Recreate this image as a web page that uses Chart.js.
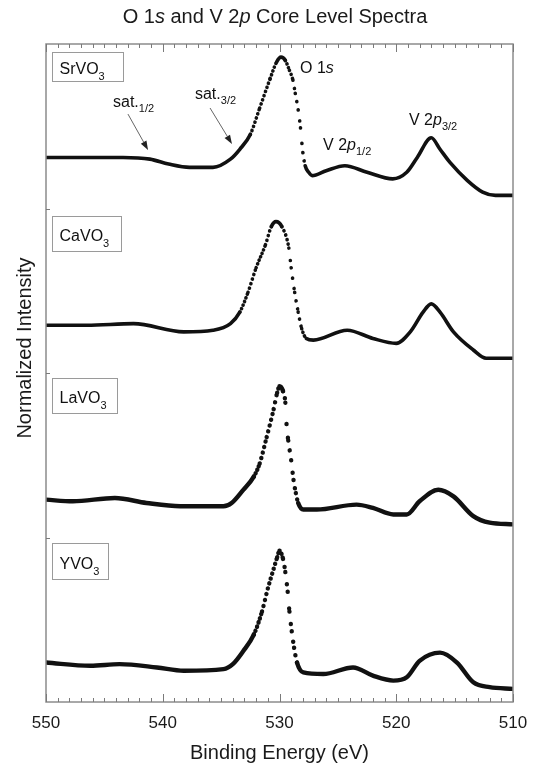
<!DOCTYPE html>
<html><head><meta charset="utf-8">
<script src="https://cdn.jsdelivr.net/npm/chart.js@4.4.0/dist/chart.umd.min.js"></script>
<style>html,body{margin:0;padding:0;background:#fff;}canvas{display:block;}</style>
</head><body>
<canvas id="c" width="540" height="766"></canvas>
<script>
// ---------- data (binding energy in eV, normalized intensity incl. vertical offsets) ----------
const srEnergy = [550, 547, 543.4, 541.1, 539.5, 537.7, 535.7, 534.2, 533.4, 532.5, 531.7, 530.8, 530.25, 529.87, 529.5, 529.15, 528.85, 528.65, 528.4, 528.2, 528.0, 527.8, 527.5, 527.2, 526.0, 524.4, 522.5, 520.3, 519.1, 518.2, 517.0, 516.25, 515.4, 513.9, 512.6, 511.5, 510];
const srIntensity = [3.31, 3.31, 3.31, 3.30, 3.27, 3.25, 3.25, 3.30, 3.36, 3.45, 3.61, 3.79, 3.89, 3.92, 3.90, 3.84, 3.78, 3.70, 3.60, 3.49, 3.34, 3.26, 3.22, 3.20, 3.23, 3.26, 3.22, 3.18, 3.22, 3.31, 3.43, 3.36, 3.28, 3.17, 3.10, 3.08, 3.08];

const caEnergy = [550, 546.5, 542.5, 538.2, 535.7, 534.2, 533.4, 532.7, 532.0, 531.2, 530.7, 530.3, 529.8, 529.2, 529.0, 528.7, 528.4, 528.1, 527.7, 527.1, 524.2, 522.0, 520.0, 518.8, 517.7, 517.0, 516.25, 515.1, 513.4, 512.3, 510];
const caIntensity = [2.29, 2.29, 2.30, 2.25, 2.26, 2.30, 2.37, 2.49, 2.64, 2.78, 2.89, 2.92, 2.89, 2.76, 2.64, 2.49, 2.37, 2.27, 2.21, 2.20, 2.26, 2.21, 2.18, 2.25, 2.37, 2.42, 2.37, 2.25, 2.14, 2.09, 2.09];

const laEnergy = [550, 547.7, 544.1, 541.4, 538.5, 534.8, 534.1, 533.1, 532.2, 531.7, 531.1, 530.5, 530.2, 530.0, 529.7, 529.5, 529.4, 529.25, 529.0, 528.8, 528.6, 528.4, 527.96, 526.8, 523.4, 522.0, 520.25, 519.1, 518.0, 516.4, 515.1, 513.4, 512.0, 510];
const laIntensity = [1.23, 1.22, 1.24, 1.21, 1.19, 1.19, 1.21, 1.29, 1.37, 1.45, 1.61, 1.78, 1.88, 1.92, 1.89, 1.82, 1.69, 1.59, 1.47, 1.35, 1.27, 1.21, 1.17, 1.17, 1.20, 1.18, 1.14, 1.14, 1.22, 1.29, 1.25, 1.13, 1.09, 1.08];

const yEnergy = [550, 546.2, 543.7, 540.5, 538.2, 534.8, 534.0, 533.1, 532.2, 531.5, 531.0, 530.5, 530.2, 530.0, 529.7, 529.5, 529.3, 529.15, 528.95, 528.75, 528.5, 527.96, 526.25, 523.7, 522.0, 520.25, 519.1, 518.0, 516.25, 514.8, 513.4, 512.0, 510];
const yIntensity = [0.24, 0.22, 0.23, 0.21, 0.19, 0.20, 0.23, 0.31, 0.41, 0.55, 0.69, 0.81, 0.88, 0.92, 0.87, 0.79, 0.67, 0.55, 0.43, 0.33, 0.24, 0.18, 0.17, 0.21, 0.16, 0.13, 0.15, 0.25, 0.30, 0.24, 0.12, 0.09, 0.08];

const sampleNames = ['SrVO', 'CaVO', 'LaVO', 'YVO'];
const xMajorTicks = [550, 540, 530, 520, 510];
const yTickValues = [1, 2, 3];

// ---------- helpers ----------
const FONT = '"Liberation Sans", Arial, Helvetica, sans-serif';
const STEP_PX = 1.46, DOT = 3.6;
function dotDash(c) {
  const dx = Math.abs(c.p1.x - c.p0.x), dy = Math.abs(c.p1.y - c.p0.y);
  const s = dx === 0 ? 20 : dy / dx;
  const spacing = STEP_PX * Math.sqrt(1 + s * s);
  if (spacing < 3.3) return undefined;
  return [0.1, Math.max(spacing, DOT + 0.3) - 0.1];
}
function series(label, ex, iy, w) {
  return {
    label, data: ex.map((e, i) => ({x: e, y: iy[i]})),
    borderColor: '#111', backgroundColor: '#111', borderWidth: w,
    pointRadius: 0, showLine: true, cubicInterpolationMode: 'monotone',
    borderCapStyle: 'round', borderJoinStyle: 'round',
    segment: { borderDash: dotDash }
  };
}
function rich(ctx, x, y, parts, align) {
  let w = 0;
  parts.forEach(p => { ctx.font = `${p.it ? 'italic ' : ''}${p.s}px ${FONT}`; w += ctx.measureText(p.t).width; });
  let cx = align === 'center' ? x - w / 2 : x;
  ctx.textAlign = 'left';
  ctx.textBaseline = 'alphabetic';
  parts.forEach(p => {
    ctx.font = `${p.it ? 'italic ' : ''}${p.s}px ${FONT}`;
    ctx.fillText(p.t, cx, y + (p.dy || 0));
    cx += ctx.measureText(p.t).width;
  });
}

// annotation anchors in data units (energy, intensity)
const boxes = [
  {e: 549.5, i: 3.951, w: 71, h: 29, name: sampleNames[0]},
  {e: 549.5, i: 2.954, w: 69, h: 35, name: sampleNames[1]},
  {e: 549.5, i: 1.970, w: 65, h: 35, name: sampleNames[2]},
  {e: 549.5, i: 0.967, w: 56, h: 36, name: sampleNames[3]}
];
const labels = [
  {e: 544.26, i: 3.617, parts: [{t: 'sat.', s: 16}, {t: '1/2', s: 11, dy: 5}]},
  {e: 537.24, i: 3.666, parts: [{t: 'sat.', s: 16}, {t: '3/2', s: 11, dy: 5}]},
  {e: 528.24, i: 3.824, parts: [{t: 'O 1', s: 16}, {t: 's', s: 16, it: true}]},
  {e: 526.27, i: 3.356, parts: [{t: 'V 2', s: 16}, {t: 'p', s: 16, it: true}, {t: '1/2', s: 11, dy: 5}]},
  {e: 518.91, i: 3.508, parts: [{t: 'V 2', s: 16}, {t: 'p', s: 16, it: true}, {t: '3/2', s: 11, dy: 5}]}
];
const arrows = [
  {e0: 542.98, i0: 3.574, e1: 541.26, i1: 3.356},
  {e0: 535.95, i0: 3.611, e1: 534.07, i1: 3.392}
];

const decor = {
  id: 'decor',
  afterDraw(chart) {
    const {ctx, chartArea: a, scales: {x, y}} = chart;
    ctx.save();
    // frame
    ctx.strokeStyle = '#8c8c8c'; ctx.lineWidth = 1.5;
    ctx.strokeRect(a.left, a.top, a.right - a.left, a.bottom - a.top);
    // x ticks (inward, top & bottom)
    ctx.lineWidth = 1; ctx.strokeStyle = '#7a7a7a';
    ctx.beginPath();
    for (let e = x.min; e <= x.max; e += 1) {
      const px = Math.round(x.getPixelForValue(e)) + 0.5;
      const len = xMajorTicks.includes(e) ? 8 : 4;
      ctx.moveTo(px, a.bottom); ctx.lineTo(px, a.bottom - len);
      ctx.moveTo(px, a.top); ctx.lineTo(px, a.top + len);
    }
    yTickValues.forEach(v => {
      const py = Math.round(y.getPixelForValue(v)) + 0.5;
      ctx.moveTo(a.left, py); ctx.lineTo(a.left + 4, py);
    });
    ctx.stroke();
    // sample boxes
    ctx.fillStyle = '#111';
    boxes.forEach(b => {
      const bx = Math.round(x.getPixelForValue(b.e)) + 0.5, by = Math.round(y.getPixelForValue(b.i)) + 0.5;
      ctx.strokeStyle = '#9a9a9a'; ctx.lineWidth = 1;
      ctx.strokeRect(bx, by, b.w, b.h);
      rich(ctx, bx + 7, by + b.h / 2 + 7, [{t: b.name, s: 16}, {t: '3', s: 11, dy: 6}]);
    });
    // labels
    labels.forEach(l => rich(ctx, x.getPixelForValue(l.e), y.getPixelForValue(l.i), l.parts));
    // arrows
    arrows.forEach(r => {
      const x0 = x.getPixelForValue(r.e0), y0 = y.getPixelForValue(r.i0);
      const x1 = x.getPixelForValue(r.e1), y1 = y.getPixelForValue(r.i1);
      const ang = Math.atan2(y1 - y0, x1 - x0), L = 9, W = 3.2;
      const bxp = x1 - L * Math.cos(ang), byp = y1 - L * Math.sin(ang);
      ctx.strokeStyle = '#666'; ctx.lineWidth = 1;
      ctx.beginPath(); ctx.moveTo(x0, y0); ctx.lineTo(bxp, byp); ctx.stroke();
      ctx.fillStyle = '#222';
      ctx.beginPath(); ctx.moveTo(x1, y1);
      ctx.lineTo(bxp + W * Math.sin(ang), byp - W * Math.cos(ang));
      ctx.lineTo(bxp - W * Math.sin(ang), byp + W * Math.cos(ang));
      ctx.closePath(); ctx.fill();
    });
    // title
    ctx.fillStyle = '#1a1a1a';
    rich(ctx, 275, 23, [{t: 'O 1', s: 20}, {t: 's', s: 20, it: true}, {t: ' and V 2', s: 20}, {t: 'p', s: 20, it: true}, {t: ' Core Level Spectra', s: 20}], 'center');
    // y axis title
    ctx.translate(31, 348); ctx.rotate(-Math.PI / 2);
    ctx.font = `20px ${FONT}`; ctx.textAlign = 'center'; ctx.textBaseline = 'alphabetic';
    ctx.fillText('Normalized Intensity', 0, 0);
    ctx.restore();
  }
};

new Chart(document.getElementById('c'), {
  type: 'line',
  data: { datasets: [
    series('SrVO3', srEnergy, srIntensity, 3.6),
    series('CaVO3', caEnergy, caIntensity, 3.6),
    series('LaVO3', laEnergy, laIntensity, 4.4),
    series('YVO3', yEnergy, yIntensity, 4.4)
  ]},
  options: {
    responsive: false, animation: false, devicePixelRatio: 1,
    layout: { padding: { top: 44, right: 27, left: 0, bottom: 0 } },
    plugins: { legend: { display: false }, tooltip: { enabled: false }, title: { display: false } },
    scales: {
      x: {
        type: 'linear', position: 'bottom', min: 510, max: 550, reverse: true,
        grid: { display: false, drawTicks: false }, border: { display: false },
        ticks: { stepSize: 10, padding: 11, color: '#1a1a1a', font: { size: 17, family: FONT }, maxRotation: 0 },
        title: { display: true, text: 'Binding Energy (eV)', color: '#1a1a1a', font: { size: 20, family: FONT }, padding: { top: 0, bottom: 1 } },
        afterFit(s) { s.height = 64; }
      },
      y: {
        type: 'linear', min: 0, max: 4,
        grid: { display: false, drawTicks: false }, border: { display: false },
        ticks: { display: false, stepSize: 1 },
        afterFit(s) { s.width = 46; }
      }
    }
  },
  plugins: [decor]
});
</script>
</body></html>
